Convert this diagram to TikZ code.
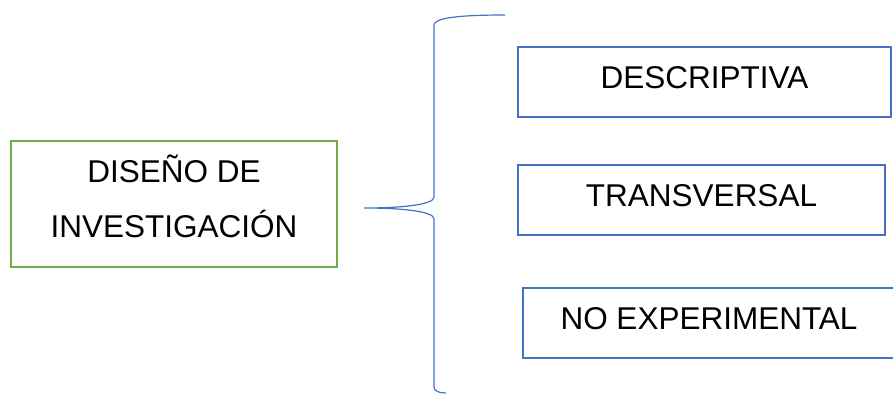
\documentclass[tikz,border=0pt]{standalone}
\usepackage{fontspec}
\setmainfont{Liberation Sans}
\definecolor{boxblue}{HTML}{4472C4}
\definecolor{boxgreen}{HTML}{70AD47}
\begin{document}
\begin{tikzpicture}[x=1pt,y=-1pt,
  bluebox/.style={draw=boxblue,line width=1.6pt,minimum height=70pt,inner sep=0pt,
    text depth=9pt,font=\fontsize{31.5}{40}\selectfont,text=black},
  greenbox/.style={draw=boxgreen,line width=1.6pt,minimum width=326pt,minimum height=126pt,
    inner sep=0pt,text depth=15pt,align=center,font=\fontsize{31.5}{55}\selectfont,text=black},
  bracestyle/.style={draw=boxblue,line width=1.2pt}]
\useasboundingbox (0,0) rectangle (893,394);
\node[greenbox] (main) at (174,204) {DISEÑO DE\\INVESTIGACIÓN};
\node[bluebox,minimum width=373pt] (desc) at (704.5,82) {DESCRIPTIVA};
\node[bluebox,minimum width=367pt] (trans) at (701.5,200) {TRANSVERSAL};
\node[bluebox,minimum width=372pt] (noexp) at (709,323) {NO EXPERIMENTAL};
\coordinate (tip) at (364,208);
\draw[bracestyle] (505,15) .. controls (458,15) and (434,18) .. (434,25) -- (434,197)
  .. controls (434,205) and (400,208) .. (tip)
  .. controls (400,208) and (434,211) .. (434,219) -- (434,387)
  .. controls (434,391) and (439,393) .. (446,393);
\end{tikzpicture}
\end{document}
